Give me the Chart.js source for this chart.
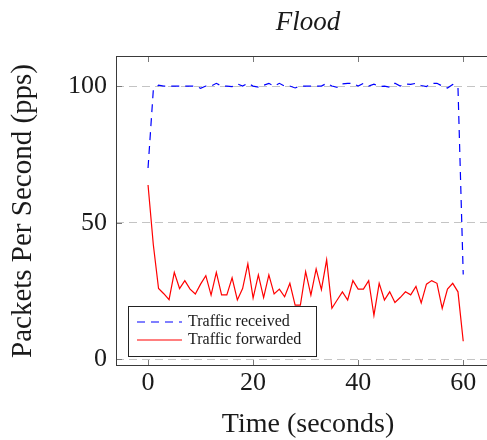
<!DOCTYPE html>
<html>
<head>
<meta charset="utf-8">
<title>Flood</title>
<script src="https://cdn.jsdelivr.net/npm/chart.js@4.4.1/dist/chart.umd.min.js"></script>
<style>
  html, body { margin: 0; padding: 0; background: #fff; overflow: hidden; }
  #wrap { width: 500px; height: 440px; }
</style>
</head>
<body>
<div id="wrap"><canvas id="flood" width="500" height="440"></canvas></div>
<script>
// time axis, one sample per second
const seconds = [
  0, 1, 2, 3, 4, 5, 6, 7, 8, 9, 10, 11, 12, 13, 14, 15, 16, 17, 18, 19, 20,
  21, 22, 23, 24, 25, 26, 27, 28, 29, 30, 31, 32, 33, 34, 35, 36, 37, 38, 39, 40,
  41, 42, 43, 44, 45, 46, 47, 48, 49, 50, 51, 52, 53, 54, 55, 56, 57, 58, 59, 60
];

// packets per second arriving at the switch
const received = [
  70, 98.5, 100.3, 100, 100, 100, 100, 100, 100, 100, 99.2,
  100, 100, 101, 100, 100, 99.8, 100.8, 100, 101, 100,
  99.6, 100.3, 101, 100, 101, 100, 100, 99.3, 100, 100,
  100, 100, 100, 101, 100, 99.5, 100.8, 101, 101, 100,
  101, 100, 100.7, 99.8, 100, 99.6, 101, 100, 100.8, 100.6,
  101, 100.2, 99.8, 101, 101, 100, 99.3, 100.6, 99.5, 31
];

// packets per second forwarded on
const forwarded = [
  63.8, 42, 25.9, 24, 21.8, 31.8, 25.9, 28.8, 25.7, 23.9, 27.5,
  30.6, 23.5, 31.8, 23.6, 23.6, 29.8, 21.7, 25.9, 34.9, 22.4,
  30.9, 22.6, 30.9, 23.9, 25.7, 22.9, 27.8, 19.8, 19.8, 32.1,
  23.5, 33.1, 25.5, 36.4, 18.7, 21.7, 24.7, 21.7, 28.8, 25.7,
  25.7, 28.8, 16.1, 27.8, 21.7, 24.7, 20.8, 22.6, 24.7, 23.6,
  26.7, 20.6, 27.5, 28.8, 27.8, 18.6, 25.7, 27.8, 24.7, 6.6
];

const xTicks = [0, 20, 40, 60];
const yTicks = [0, 50, 100];

const serif = 'Liberation Serif, Times New Roman, serif';
const ink = '#1a1a1a';

const toPoints = vals => vals.map((v, i) => ({ x: seconds[i], y: v }));

// box, inward tick marks and the legend inside the plot
const framePlugin = {
  id: 'frame',
  afterDatasetsDraw(chart) {
    const { ctx, chartArea: a, scales: { x, y } } = chart;
    ctx.save();

    ctx.strokeStyle = '#7a7a7a';
    ctx.lineWidth = 1;
    ctx.setLineDash([]);
    ctx.beginPath();
    xTicks.forEach(v => {
      const px = Math.round(x.getPixelForValue(v)) + 0.5;
      ctx.moveTo(px, a.top); ctx.lineTo(px, a.top + 6);
      ctx.moveTo(px, a.bottom); ctx.lineTo(px, a.bottom - 6);
    });
    yTicks.forEach(v => {
      const py = Math.round(y.getPixelForValue(v)) + 0.5;
      ctx.moveTo(a.left, py); ctx.lineTo(a.left + 6, py);
      ctx.moveTo(a.right, py); ctx.lineTo(a.right - 6, py);
    });
    ctx.stroke();

    ctx.strokeStyle = '#3a3a3a';
    ctx.strokeRect(a.left + 0.5, a.top + 0.5, a.right - a.left - 1, a.bottom - a.top - 1);

    // legend
    const bx = a.left + 12, by = a.bottom - 60, bw = 188, bh = 50;
    ctx.fillStyle = '#fff';
    ctx.fillRect(bx, by, bw, bh);
    ctx.strokeStyle = '#222';
    ctx.strokeRect(bx + 0.5, by + 0.5, bw, bh);

    ctx.font = '16px ' + serif;
    ctx.textBaseline = 'middle';
    ctx.textAlign = 'left';
    chart.data.datasets.forEach((ds, i) => {
      const ry = by + 16 + i * 18;
      ctx.strokeStyle = ds.borderColor;
      ctx.lineWidth = ds.borderWidth;
      ctx.setLineDash(ds.borderDash || []);
      ctx.beginPath();
      ctx.moveTo(bx + 9, ry);
      ctx.lineTo(bx + 54, ry);
      ctx.stroke();
      ctx.setLineDash([]);
      ctx.fillStyle = ink;
      ctx.fillText(ds.label, bx + 60, ry);
    });

    ctx.restore();
  }
};

Chart.defaults.color = ink;
Chart.defaults.font.family = serif;

new Chart(document.getElementById('flood'), {
  type: 'line',
  data: {
    datasets: [
      {
        label: 'Traffic received',
        data: toPoints(received),
        borderColor: '#0000ff',
        borderWidth: 1.2,
        borderDash: [8, 6],
        pointRadius: 0,
        tension: 0,
        fill: false
      },
      {
        label: 'Traffic forwarded',
        data: toPoints(forwarded),
        borderColor: '#ff0000',
        borderWidth: 1.2,
        pointRadius: 0,
        tension: 0,
        fill: false
      }
    ]
  },
  options: {
    responsive: false,
    animation: false,
    layout: { padding: 0 },
    plugins: {
      legend: { display: false },
      tooltip: { enabled: false },
      title: {
        display: true,
        text: 'Flood',
        fullSize: false,
        color: ink,
        font: { family: serif, size: 27, style: 'italic', weight: 'normal', lineHeight: 1 },
        padding: { top: 9, bottom: 20 }
      }
    },
    scales: {
      x: {
        type: 'linear',
        min: -6.1,
        max: 67,
        afterBuildTicks: s => { s.ticks = xTicks.map(v => ({ value: v })); },
        afterFit: s => { s.height = 74; },
        grid: { display: false, drawTicks: false },
        border: { display: false },
        ticks: { font: { size: 26 }, padding: 2, maxRotation: 0 },
        title: {
          display: true,
          text: 'Time (seconds)',
          font: { size: 28, lineHeight: 1 },
          padding: { top: 0, bottom: 1 }
        }
      },
      y: {
        type: 'linear',
        min: -2.45,
        max: 111,
        afterBuildTicks: s => { s.ticks = yTicks.map(v => ({ value: v })); },
        afterFit: s => { s.width = 116; },
        grid: { color: '#c4c4c4', lineWidth: 1, drawTicks: false },
        border: { display: false, dash: [8, 5] },
        ticks: { font: { size: 26 }, padding: 9 },
        title: {
          display: true,
          text: 'Packets Per Second (pps)',
          font: { size: 29, lineHeight: 1 },
          padding: { top: 9, bottom: 0 }
        }
      }
    }
  },
  plugins: [framePlugin]
});
</script>
</body>
</html>
